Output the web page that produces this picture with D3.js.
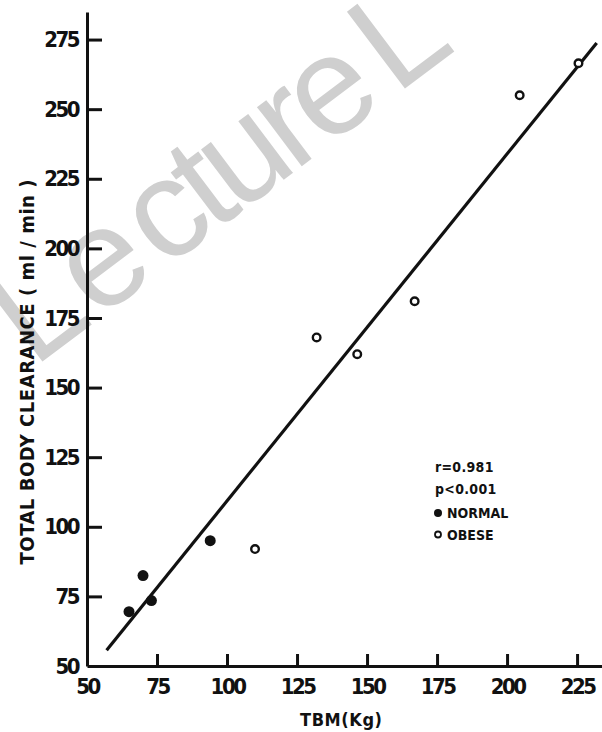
<!DOCTYPE html>
<html lang="en">
<head>
  <meta charset="UTF-8" />
  <script src="https://d3js.org/d3.v7.min.js"></script>
  <style>
    body { margin: 0; background: #fff; }
    svg text { font-family: "Liberation Sans Narrow", "Arial Narrow", "DejaVu Sans Condensed", sans-serif; font-weight: bold; fill: #111; }
  </style>
</head>
<body onload="init()">
  <div id="scene"></div>

  <script>
    // values
    const normalTBM = [65, 70, 73, 94];
    const normalTBC = [69.5, 82.5, 73.5, 95];
    const obeseTBM = [110, 132, 146.5, 167, 204.5, 225.5];
    const obeseTBC = [92, 168, 162, 181, 255, 266.5];
    const regTBM = [57, 232];
    const regTBC = [55.7, 273.8];
    const xTicks = [50, 75, 100, 125, 150, 175, 200, 225];
    const yTicks = [50, 75, 100, 125, 150, 175, 200, 225, 250, 275];
    const statLines = ["r=0.981", "p<0.001"];
    const legendNames = ["NORMAL", "OBESE"];

    function init() {
      const W = 602, H = 732;
      const svg = d3.select("#scene").append("svg").attr("width", W).attr("height", H);

      // faint watermark across the top (cut by the edges like the scan)
      const wm = svg.append("g").attr("transform", "translate(164,270) rotate(-37)");
      wm.append("text").attr("text-anchor", "start")
        .style("font-family", "'Liberation Sans', Arial, sans-serif").style("font-weight", "normal")
        .style("fill", "#cfcfcf").style("font-size", "140px").style("letter-spacing", "-8px")
        .style("word-spacing", "-12px")
        .text("cture L");
      wm.append("text").attr("text-anchor", "end").attr("x", -4)
        .style("font-family", "'Liberation Sans', Arial, sans-serif").style("font-weight", "normal")
        .style("fill", "#cfcfcf").style("font-size", "140px").style("letter-spacing", "2px")
        .text("Le");

      const x = d3.scaleLinear().domain([50, 233.9]).range([87, 602]);
      const y = d3.scaleLinear().domain([50, 284.9]).range([666, 12]);

      // axes
      const xAxis = svg.append("g").attr("transform", `translate(0,${y(50)})`)
        .call(d3.axisBottom(x).tickValues(xTicks).tickSize(-12).tickSizeOuter(0).tickPadding(12));
      const yAxis = svg.append("g").attr("transform", `translate(${x(50)},0)`)
        .call(d3.axisLeft(y).tickValues(yTicks).tickSize(-15).tickSizeOuter(0).tickPadding(9));

      [xAxis, yAxis].forEach(a => {
        a.selectAll("path, line").attr("stroke", "#111").attr("stroke-width", 3);
        a.selectAll("text").style("font-size", "22px").style("letter-spacing", "-2.5px").attr("fill", "#111");
      });
      xAxis.selectAll(".tick").filter(d => d === 50).select("line").remove();
      yAxis.selectAll(".tick").filter(d => d === 50).select("line").remove();

      // regression line
      svg.append("line")
        .attr("x1", x(regTBM[0])).attr("y1", y(regTBC[0]))
        .attr("x2", x(regTBM[1])).attr("y2", y(regTBC[1]))
        .attr("stroke", "#111").attr("stroke-width", 3.2);

      // normal: filled
      svg.selectAll("circle.normal").data(normalTBM).enter().append("circle")
        .attr("class", "normal")
        .attr("cx", d => x(d)).attr("cy", (d, i) => y(normalTBC[i]))
        .attr("r", 5.5).attr("fill", "#111");

      // obese: open
      svg.selectAll("circle.obese").data(obeseTBM).enter().append("circle")
        .attr("class", "obese")
        .attr("cx", d => x(d)).attr("cy", (d, i) => y(obeseTBC[i]))
        .attr("r", 3.8).attr("fill", "#fff").attr("stroke", "#111").attr("stroke-width", 2.4);

      // stats + legend
      const lg = svg.append("g");
      statLines.forEach((s, i) => {
        lg.append("text").attr("x", 435).attr("y", 472 + i * 22)
          .style("font-size", "14px").style("letter-spacing", "0.3px").text(s);
      });
      legendNames.forEach((s, i) => {
        const cy = 513 + i * 21.5;
        if (i === 0) lg.append("circle").attr("cx", 438).attr("cy", cy).attr("r", 4).attr("fill", "#111");
        else lg.append("circle").attr("cx", 438).attr("cy", cy).attr("r", 3).attr("fill", "#fff")
          .attr("stroke", "#111").attr("stroke-width", 1.8);
        lg.append("text").attr("x", 447).attr("y", cy + 5)
          .style("font-size", "14px").style("letter-spacing", "0px").text(s);
      });

      // axis titles
      svg.append("text")
        .attr("transform", "translate(27,372) rotate(-90)")
        .attr("text-anchor", "middle").attr("dy", "0.36em")
        .attr("textLength", 385).attr("lengthAdjust", "spacing")
        .style("font-size", "20px")
        .text("TOTAL BODY CLEARANCE ( ml / min )");

      svg.append("text")
        .attr("x", 341).attr("y", 720).attr("dy", "0.36em")
        .attr("text-anchor", "middle")
        .attr("textLength", 82).attr("lengthAdjust", "spacing")
        .style("font-size", "18px")
        .text("TBM(Kg)");
    }
  </script>
</body>
</html>
